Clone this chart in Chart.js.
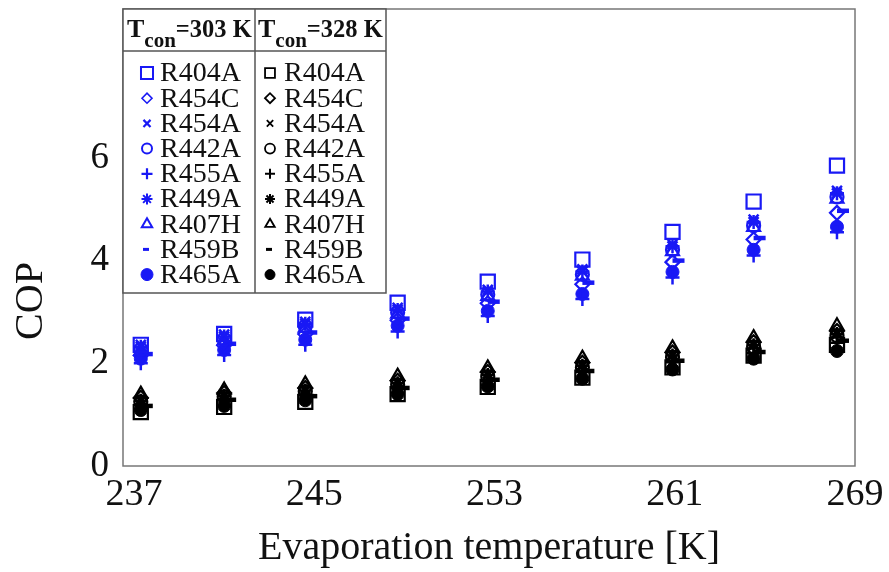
<!DOCTYPE html>
<html>
<head>
<meta charset="utf-8">
<script src="https://cdn.jsdelivr.net/npm/chart.js@4/dist/chart.umd.min.js"></script>
<style>
html,body{margin:0;padding:0;background:#fff;}
canvas{display:block;}
</style>
</head>
<body>
<canvas id="c" width="889" height="572"></canvas>
<script>
// ---- data ----
const evapTemps = [237.3, 241.0, 244.6, 248.7, 252.7, 256.9, 260.9, 264.5, 268.2];
const xTicks = [237, 245, 253, 261, 269];
const yTicks = [0, 2, 4, 6];
const refrigerants = ['R404A','R454C','R454A','R442A','R455A','R449A','R407H','R459B','R465A'];

// Tcon = 303 K (blue)
const cop303_R404A = [2.36, 2.57, 2.85, 3.18, 3.59, 4.02, 4.56, 5.15, 5.85];
const cop303_R454C = [2.15, 2.35, 2.57, 2.84, 3.17, 3.54, 3.97, 4.41, 4.93];
const cop303_R454A = [2.36, 2.56, 2.81, 3.08, 3.43, 3.83, 4.32, 4.80, 5.36];
const cop303_R442A = [2.27, 2.47, 2.72, 2.99, 3.34, 3.73, 4.21, 4.68, 5.24];
const cop303_R455A = [2.00, 2.16, 2.36, 2.62, 2.92, 3.25, 3.67, 4.10, 4.55];
const cop303_R449A = [2.32, 2.52, 2.77, 3.04, 3.40, 3.79, 4.28, 4.75, 5.31];
const cop303_R407H = [2.24, 2.44, 2.69, 2.96, 3.31, 3.70, 4.18, 4.65, 5.20];
const cop303_R459B = [2.18, 2.38, 2.60, 2.87, 3.20, 3.57, 4.00, 4.44, 4.97];
const cop303_R465A = [2.09, 2.26, 2.46, 2.73, 3.02, 3.35, 3.78, 4.21, 4.66];

// Tcon = 328 K (black)
const cop328_R404A = [1.05, 1.15, 1.25, 1.40, 1.54, 1.72, 1.92, 2.15, 2.36];
const cop328_R454C = [1.33, 1.42, 1.52, 1.66, 1.83, 2.01, 2.21, 2.41, 2.63];
const cop328_R454A = [1.30, 1.40, 1.50, 1.64, 1.80, 1.98, 2.18, 2.38, 2.60];
const cop328_R442A = [1.25, 1.35, 1.45, 1.58, 1.74, 1.92, 2.12, 2.32, 2.54];
const cop328_R455A = [1.20, 1.28, 1.38, 1.52, 1.66, 1.83, 2.02, 2.20, 2.40];
const cop328_R449A = [1.27, 1.37, 1.47, 1.61, 1.77, 1.95, 2.15, 2.35, 2.57];
const cop328_R407H = [1.40, 1.48, 1.60, 1.75, 1.91, 2.10, 2.30, 2.50, 2.73];
const cop328_R459B = [1.17, 1.29, 1.36, 1.52, 1.68, 1.85, 2.05, 2.22, 2.44];
const cop328_R465A = [1.09, 1.17, 1.28, 1.40, 1.55, 1.70, 1.88, 2.09, 2.24];

const series303 = [cop303_R404A, cop303_R454C, cop303_R454A, cop303_R442A, cop303_R455A, cop303_R449A, cop303_R407H, cop303_R459B, cop303_R465A];
const series328 = [cop328_R404A, cop328_R454C, cop328_R454A, cop328_R442A, cop328_R455A, cop328_R449A, cop328_R407H, cop328_R459B, cop328_R465A];

// ---- styles ----
const BLUE = 'rgb(25,25,245)';
const BLACK = '#000';
const markerStyles = [
  {pointStyle:'rect',     r:10, fill:false, bw:2.2},
  {pointStyle:'rectRot',  r:7,  fill:false, bw:2.2},
  {pointStyle:'crossRot', r:7,  fill:false, bw:2.5},
  {pointStyle:'circle',   r:6.5,fill:false, bw:2.2},
  {pointStyle:'cross',    r:7,  fill:false, bw:2.5},
  {pointStyle:'star',     r:7,  fill:false, bw:2.5},
  {pointStyle:'triangle', r:7.5,fill:false, bw:2.2},
  {pointStyle:'dash',     r:12, fill:false, bw:4.5},
  {pointStyle:'circle',   r:6.5,fill:true,  bw:1}
];

function makeDatasets(series, color, group) {
  return series.map((vals, i) => {
    const m = markerStyles[i];
    return {
      label: refrigerants[i] + ' (' + group + ')',
      data: evapTemps.map((t, k) => ({x: t, y: vals[k]})),
      showLine: false,
      pointStyle: m.pointStyle,
      pointRadius: m.r,
      pointBorderWidth: m.bw,
      pointBorderColor: color,
      pointBackgroundColor: m.fill ? color : 'rgba(0,0,0,0)',
      borderColor: color,
      backgroundColor: m.fill ? color : 'rgba(0,0,0,0)'
    };
  });
}

const datasets = makeDatasets(series303, BLUE, 'Tcon=303 K').concat(makeDatasets(series328, BLACK, 'Tcon=328 K'));

const SERIF = '"Liberation Serif", "Times New Roman", serif';

// ---- custom drawing: frame, y title, table legend ----
function drawMarker(ctx, style, radius, x, y, color, fill, bw) {
  ctx.save();
  ctx.strokeStyle = color;
  ctx.fillStyle = fill ? color : 'rgba(0,0,0,0)';
  ctx.lineWidth = bw;
  if (Chart.helpers && Chart.helpers.drawPoint) {
    Chart.helpers.drawPoint(ctx, {pointStyle: style, radius: radius, rotation: 0, borderWidth: bw}, x, y);
  }
  ctx.restore();
}

const legendMarkersBlue = [
  {s:'rect', r:8.5, bw:2}, {s:'rectRot', r:5, bw:1.6}, {s:'crossRot', r:5, bw:2.2}, {s:'circle', r:5, bw:2},
  {s:'cross', r:5.5, bw:2.2}, {s:'star', r:5.5, bw:2}, {s:'triangle', r:6, bw:2}, {s:'dash', r:6, bw:3}, {s:'circle', r:6, bw:1, f:true}
];
const legendMarkersBlack = [
  {s:'rect', r:7, bw:1.8}, {s:'rectRot', r:5, bw:1.8}, {s:'crossRot', r:4.5, bw:1.8}, {s:'circle', r:5, bw:1.8},
  {s:'cross', r:5, bw:2}, {s:'star', r:5, bw:2}, {s:'triangle', r:5.5, bw:1.8}, {s:'dash', r:6, bw:3}, {s:'circle', r:5, bw:1, f:true}
];

const customDraw = {
  id: 'customDraw',
  afterDatasetsDraw(chart) {
    const ctx = chart.ctx;
    const a = chart.chartArea;
    ctx.save();
    // frame
    ctx.strokeStyle = '#777';
    ctx.lineWidth = 1.5;
    ctx.strokeRect(a.left, a.top, a.right - a.left, a.bottom - a.top);

    // y title
    ctx.fillStyle = '#111';
    ctx.font = '40px ' + SERIF;
    ctx.textAlign = 'center';
    ctx.textBaseline = 'middle';
    ctx.translate(31, 301);
    ctx.rotate(-Math.PI / 2);
    ctx.fillText('COP', 0, 0);
    ctx.restore();

    // legend table
    ctx.save();
    const L = a.left, T = a.top, R = 386, B = 293, MID = 255, HDR = 51;
    ctx.fillStyle = '#fff';
    ctx.fillRect(L, T, R - L, B - T);
    ctx.strokeStyle = '#555';
    ctx.lineWidth = 1.5;
    ctx.strokeRect(L, T, R - L, B - T);
    ctx.beginPath();
    ctx.moveTo(L, HDR); ctx.lineTo(R, HDR);
    ctx.moveTo(MID, T); ctx.lineTo(MID, B);
    ctx.stroke();

    // headers
    function header(x0, temp) {
      ctx.fillStyle = '#111';
      ctx.textAlign = 'left';
      ctx.textBaseline = 'alphabetic';
      ctx.font = 'bold 26px ' + SERIF;
      ctx.fillText('T', x0, 37);
      let x = x0 + ctx.measureText('T').width;
      ctx.font = 'bold 21px ' + SERIF;
      ctx.fillText('con', x, 47);
      x += ctx.measureText('con').width;
      ctx.font = 'bold 24.5px ' + SERIF;
      ctx.fillText('=' + temp + ' K', x, 37);
    }
    header(127, 303);
    header(258, 328);

    // rows
    const y0 = 73, dy = 25.2;
    refrigerants.forEach((name, i) => {
      const y = y0 + i * dy;
      const mb = legendMarkersBlue[i], mk = legendMarkersBlack[i];
      const bx = mb.s === 'dash' ? 143 : 147;
      const kx = mk.s === 'dash' ? 266 : 270;
      drawMarker(ctx, mb.s, mb.r, bx, y, BLUE, !!mb.f, mb.bw);
      drawMarker(ctx, mk.s, mk.r, kx, y, BLACK, !!mk.f, mk.bw);
      ctx.fillStyle = '#111';
      ctx.font = '28px ' + SERIF;
      ctx.textAlign = 'left';
      ctx.textBaseline = 'middle';
      ctx.fillText(name, 160, y + 1);
      ctx.fillText(name, 284, y + 1);
    });
    ctx.restore();
  }
};

new Chart(document.getElementById('c'), {
  type: 'scatter',
  data: {datasets},
  options: {
    responsive: false,
    animation: false,
    devicePixelRatio: 1,
    layout: {autoPadding: false, padding: {top: 9, right: 34, left: 0, bottom: 0}},
    plugins: {legend: {display: false}, tooltip: {enabled: false}},
    scales: {
      x: {
        type: 'linear',
        min: 236.51,
        max: 269,
        afterBuildTicks: s => { s.ticks = xTicks.map(v => ({value: v})); },
        afterFit: s => { s.height = 106; s.paddingLeft = 0; s.paddingRight = 0; },
        grid: {display: false, drawTicks: false},
        border: {display: false},
        ticks: {
          font: {family: SERIF, size: 38},
          color: '#111',
          padding: 6,
          maxRotation: 0,
          autoSkip: false
        },
        title: {
          display: true,
          text: 'Evaporation temperature [K]',
          font: {family: SERIF, size: 40},
          color: '#111',
          padding: {top: 0, bottom: 0}
        }
      },
      y: {
        type: 'linear',
        min: 0,
        max: 8.9,
        afterBuildTicks: s => { s.ticks = yTicks.map(v => ({value: v})); },
        afterFit: s => { s.width = 123; s.paddingTop = 0; s.paddingBottom = 0; },
        grid: {display: false, drawTicks: false},
        border: {display: false},
        ticks: {
          font: {family: SERIF, size: 37},
          color: '#111',
          padding: 14
        },
        title: {display: false, text: 'COP'}
      }
    }
  },
  plugins: [customDraw]
});
</script>
</body>
</html>
